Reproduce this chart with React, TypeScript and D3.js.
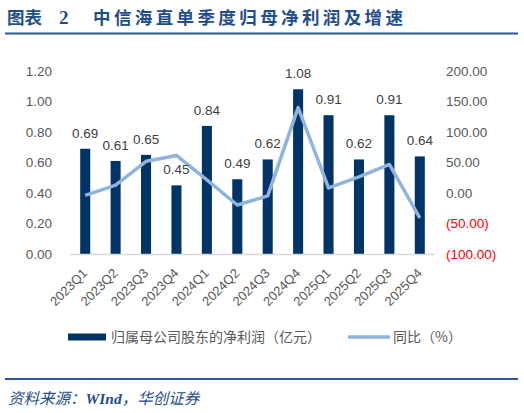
import React from "react";
import * as d3 from "d3";

// quarters on the x axis
const quarters = [
  "2023Q1", "2023Q2", "2023Q3", "2023Q4",
  "2024Q1", "2024Q2", "2024Q3", "2024Q4",
  "2025Q1", "2025Q2", "2025Q3", "2025Q4",
];
// 归属母公司股东的净利润 (亿元)
const profit = [0.69, 0.61, 0.65, 0.45, 0.84, 0.49, 0.62, 1.08, 0.91, 0.62, 0.91, 0.64];
// 同比 (%)
const yoy = [-4, 13, 52, 61.5, 21.7, -19.7, -4.6, 140, 8.3, 26.5, 46.8, -40.7];

const leftTicks = [0, 0.2, 0.4, 0.6, 0.8, 1.0, 1.2];
const rightTicks = [-100, -50, 0, 50, 100, 150, 200];

const W = 524;
const H = 413;
const plot = { left: 70, right: 435, top: 71, bottom: 254 };

const BAR = "#003366";
const LINE = "#8FB4DE";
const GREY = "#595959";
const NAVY = "#1F4E8C";
const NUM_FONT = "'Liberation Sans', Arial, sans-serif";
const CJK_FONT = "'Noto Sans CJK SC', 'Liberation Sans', sans-serif";

const fmtRight = (v: number) => (v < 0 ? `(${Math.abs(v).toFixed(2)})` : v.toFixed(2));

export default function App() {
  const x = d3.scaleBand<string>().domain(quarters).range([plot.left, plot.right]).paddingInner(0.67).paddingOuter(0.335);
  const yL = d3.scaleLinear().domain([0, 1.2]).range([plot.bottom, plot.top]);
  const yR = d3.scaleLinear().domain([-100, 200]).range([plot.bottom, plot.top]);
  const cx = (q: string) => (x(q) ?? 0) + x.bandwidth() / 2;

  const line = d3
    .line<number>()
    .x((_, i) => cx(quarters[i]))
    .y((d) => yR(d));

  return (
    <svg
      width={W}
      height={H}
      style={{ position: "absolute", left: 0, top: 0, background: "#fff" }}
    >
      {/* title */}
      <g fill={NAVY} fontFamily={CJK_FONT} fontWeight={700} fontSize={17.5}>
        <text x={7} y={24}>图表</text>
        <text x={59} y={24} fontFamily="'Liberation Serif', serif" fontSize={19}>2</text>
        <text x={93} y={24} textLength={310} lengthAdjust="spacing">中信海直单季度归母净利润及增速</text>
      </g>
      <line x1={5} x2={518} y1={33.5} y2={33.5} stroke="#2F5597" strokeWidth={2} />

      {/* left axis */}
      <g fontFamily={NUM_FONT} fontSize={13.5} fill={GREY} textAnchor="end">
        {leftTicks.map((t) => (
          <text key={t} x={52} y={yL(t)} dy="0.36em">{t.toFixed(2)}</text>
        ))}
      </g>
      {/* right axis */}
      <g fontFamily={NUM_FONT} fontSize={13.5} textAnchor="start">
        {rightTicks.map((t) => (
          <text key={t} x={446} y={yR(t)} dy="0.36em" fill={t < 0 ? "#FF0000" : GREY}>{fmtRight(t)}</text>
        ))}
      </g>

      {/* bars */}
      {profit.map((v, i) => (
        <rect key={quarters[i]} x={x(quarters[i])} y={yL(v)} width={x.bandwidth()} height={yL(0) - yL(v)} fill={BAR} />
      ))}

      <line x1={plot.left} x2={plot.right} y1={plot.bottom + 0.5} y2={plot.bottom + 0.5} stroke="#D9D9D9" strokeWidth={1.5} />

      {/* yoy line */}
      <path d={line(yoy) ?? ""} fill="none" stroke={LINE} strokeWidth={3.5} strokeLinejoin="round" />

      {/* bar labels */}
      <g fontFamily={NUM_FONT} fontSize={13.5} fill="#404040" textAnchor="middle">
        {profit.map((v, i) => (
          <text key={quarters[i]} x={cx(quarters[i])} y={yL(v) - 11}>{v.toFixed(2)}</text>
        ))}
      </g>

      {/* x labels */}
      <g fontFamily={NUM_FONT} fontSize={13} fill={GREY} textAnchor="end">
        {quarters.map((q) => (
          <text key={q} transform={`translate(${cx(q) + 3},${plot.bottom + 20}) rotate(-45)`}>{q}</text>
        ))}
      </g>

      {/* legend */}
      <rect x={68} y={333.5} width={38} height={7} fill={BAR} />
      <text x={111} y={337} dy="0.36em" fontFamily={CJK_FONT} fontSize={14} fill={GREY}>归属母公司股东的净利润（亿元）</text>
      <line x1={348} x2={390} y1={337} y2={337} stroke={LINE} strokeWidth={3.5} />
      <text x={393} y={337} dy="0.36em" fontFamily={CJK_FONT} fontSize={14} fill={GREY}>同比（%）</text>

      {/* footer */}
      <line x1={5} x2={518} y1={379} y2={379} stroke="#2F5597" strokeWidth={2} />
      <text x={8} y={404} fontFamily={CJK_FONT} fontSize={15.5} fontStyle="italic" fill={NAVY}>
        资料来源：<tspan fontFamily="'Liberation Serif', serif" fontWeight={700}>WInd</tspan>，华创证券
      </text>
    </svg>
  );
}
